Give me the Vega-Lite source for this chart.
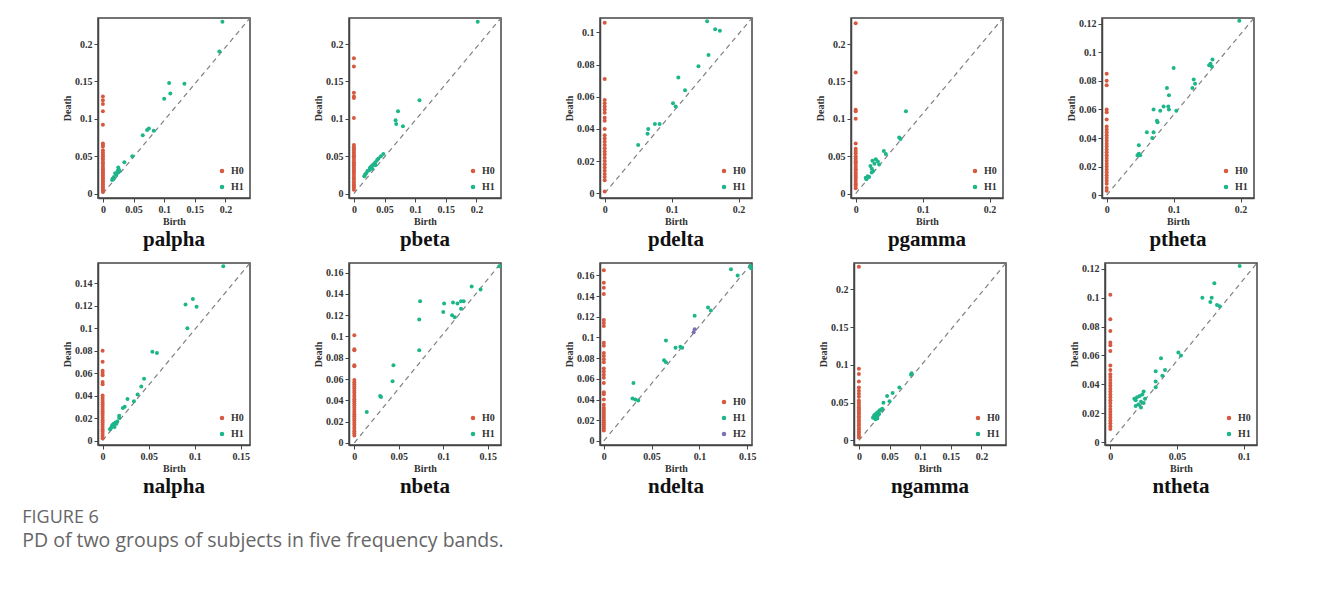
{
"$schema":"https://vega.github.io/schema/vega-lite/v6.json",
"background":"white",
"padding":{"left":22,"top":16,"right":10,"bottom":5},
"title":{"text":"FIGURE 6","subtitle":"PD of two groups of subjects in five frequency bands.","orient":"bottom","anchor":"start","dx":-39,"offset":11,"font":"Open Sans","fontSize":18,"fontWeight":"normal","color":"#666666","subtitleFont":"Open Sans","subtitleFontSize":19.5,"subtitleColor":"#666666","subtitlePadding":5},
"datasets":{
"palpha":[
{"type":"H0","birth":0,"death":0.13},{"type":"H0","birth":0,"death":0.125},{"type":"H0","birth":0,"death":0.12},{"type":"H0","birth":0,"death":0.11},{"type":"H0","birth":0,"death":0.092},{"type":"H0","birth":0,"death":0.067},{"type":"H0","birth":0,"death":0.065},{"type":"H0","birth":0,"death":0.063},{"type":"H0","birth":0,"death":0.058},{"type":"H0","birth":0,"death":0.055},{"type":"H0","birth":0,"death":0.052},{"type":"H0","birth":0,"death":0.05},{"type":"H0","birth":0,"death":0.047},{"type":"H0","birth":0,"death":0.045},{"type":"H0","birth":0,"death":0.042},{"type":"H0","birth":0,"death":0.04},{"type":"H0","birth":0,"death":0.037},{"type":"H0","birth":0,"death":0.034},{"type":"H0","birth":0,"death":0.032},{"type":"H0","birth":0,"death":0.03},{"type":"H0","birth":0,"death":0.028},{"type":"H0","birth":0,"death":0.026},{"type":"H0","birth":0,"death":0.024},{"type":"H0","birth":0,"death":0.022},{"type":"H0","birth":0,"death":0.02},{"type":"H0","birth":0,"death":0.018},{"type":"H0","birth":0,"death":0.016},{"type":"H0","birth":0,"death":0.014},{"type":"H0","birth":0,"death":0.012},{"type":"H0","birth":0,"death":0.01},{"type":"H0","birth":0,"death":0.008},{"type":"H0","birth":0,"death":0.006},{"type":"H0","birth":0,"death":0.004},{"type":"H0","birth":0,"death":0.002},
{"type":"H1","birth":0.195,"death":0.23},{"type":"H1","birth":0.19,"death":0.19},{"type":"H1","birth":0.108,"death":0.148},{"type":"H1","birth":0.133,"death":0.147},{"type":"H1","birth":0.11,"death":0.134},{"type":"H1","birth":0.1,"death":0.127},{"type":"H1","birth":0.075,"death":0.087},{"type":"H1","birth":0.072,"death":0.085},{"type":"H1","birth":0.083,"death":0.084},{"type":"H1","birth":0.065,"death":0.078},{"type":"H1","birth":0.048,"death":0.05},{"type":"H1","birth":0.035,"death":0.042},{"type":"H1","birth":0.025,"death":0.035},{"type":"H1","birth":0.026,"death":0.032},{"type":"H1","birth":0.024,"death":0.03},{"type":"H1","birth":0.025,"death":0.028},{"type":"H1","birth":0.02,"death":0.027},{"type":"H1","birth":0.022,"death":0.025},{"type":"H1","birth":0.018,"death":0.022},{"type":"H1","birth":0.016,"death":0.02},{"type":"H1","birth":0.017,"death":0.019},{"type":"H1","birth":0.015,"death":0.018},{"type":"H1","birth":0.027,"death":0.03}],
"pbeta":[
{"type":"H0","birth":0,"death":0.181},{"type":"H0","birth":0,"death":0.17},{"type":"H0","birth":0,"death":0.135},{"type":"H0","birth":0,"death":0.13},{"type":"H0","birth":0,"death":0.128},{"type":"H0","birth":0,"death":0.101},{"type":"H0","birth":0,"death":0.065},{"type":"H0","birth":0,"death":0.062},{"type":"H0","birth":0,"death":0.06},{"type":"H0","birth":0,"death":0.058},{"type":"H0","birth":0,"death":0.055},{"type":"H0","birth":0,"death":0.052},{"type":"H0","birth":0,"death":0.05},{"type":"H0","birth":0,"death":0.048},{"type":"H0","birth":0,"death":0.045},{"type":"H0","birth":0,"death":0.042},{"type":"H0","birth":0,"death":0.04},{"type":"H0","birth":0,"death":0.038},{"type":"H0","birth":0,"death":0.035},{"type":"H0","birth":0,"death":0.032},{"type":"H0","birth":0,"death":0.03},{"type":"H0","birth":0,"death":0.028},{"type":"H0","birth":0,"death":0.025},{"type":"H0","birth":0,"death":0.022},{"type":"H0","birth":0,"death":0.02},{"type":"H0","birth":0,"death":0.018},{"type":"H0","birth":0,"death":0.015},{"type":"H0","birth":0,"death":0.012},{"type":"H0","birth":0,"death":0.01},{"type":"H0","birth":0,"death":0.008},{"type":"H0","birth":0,"death":0.005},
{"type":"H1","birth":0.202,"death":0.23},{"type":"H1","birth":0.107,"death":0.125},{"type":"H1","birth":0.072,"death":0.11},{"type":"H1","birth":0.068,"death":0.098},{"type":"H1","birth":0.069,"death":0.093},{"type":"H1","birth":0.08,"death":0.09},{"type":"H1","birth":0.048,"death":0.053},{"type":"H1","birth":0.044,"death":0.05},{"type":"H1","birth":0.04,"death":0.047},{"type":"H1","birth":0.038,"death":0.045},{"type":"H1","birth":0.035,"death":0.042},{"type":"H1","birth":0.033,"death":0.04},{"type":"H1","birth":0.03,"death":0.038},{"type":"H1","birth":0.028,"death":0.036},{"type":"H1","birth":0.026,"death":0.034},{"type":"H1","birth":0.025,"death":0.031},{"type":"H1","birth":0.022,"death":0.03},{"type":"H1","birth":0.02,"death":0.027},{"type":"H1","birth":0.018,"death":0.025},{"type":"H1","birth":0.017,"death":0.023},{"type":"H1","birth":0.03,"death":0.033},{"type":"H1","birth":0.035,"death":0.038}],
"pdelta":[
{"type":"H0","birth":0,"death":0.106},{"type":"H0","birth":0,"death":0.071},{"type":"H0","birth":0,"death":0.058},{"type":"H0","birth":0,"death":0.056},{"type":"H0","birth":0,"death":0.054},{"type":"H0","birth":0,"death":0.052},{"type":"H0","birth":0,"death":0.05},{"type":"H0","birth":0,"death":0.047},{"type":"H0","birth":0,"death":0.045},{"type":"H0","birth":0,"death":0.04},{"type":"H0","birth":0,"death":0.036},{"type":"H0","birth":0,"death":0.034},{"type":"H0","birth":0,"death":0.032},{"type":"H0","birth":0,"death":0.03},{"type":"H0","birth":0,"death":0.028},{"type":"H0","birth":0,"death":0.026},{"type":"H0","birth":0,"death":0.024},{"type":"H0","birth":0,"death":0.022},{"type":"H0","birth":0,"death":0.02},{"type":"H0","birth":0,"death":0.018},{"type":"H0","birth":0,"death":0.016},{"type":"H0","birth":0,"death":0.014},{"type":"H0","birth":0,"death":0.012},{"type":"H0","birth":0,"death":0.01},{"type":"H0","birth":0,"death":0.008},{"type":"H0","birth":0,"death":0.001},
{"type":"H1","birth":0.153,"death":0.107},{"type":"H1","birth":0.165,"death":0.102},{"type":"H1","birth":0.172,"death":0.101},{"type":"H1","birth":0.155,"death":0.086},{"type":"H1","birth":0.14,"death":0.079},{"type":"H1","birth":0.11,"death":0.072},{"type":"H1","birth":0.12,"death":0.064},{"type":"H1","birth":0.102,"death":0.056},{"type":"H1","birth":0.106,"death":0.054},{"type":"H1","birth":0.075,"death":0.043},{"type":"H1","birth":0.082,"death":0.043},{"type":"H1","birth":0.065,"death":0.04},{"type":"H1","birth":0.064,"death":0.037},{"type":"H1","birth":0.05,"death":0.03}],
"pgamma":[
{"type":"H0","birth":0,"death":0.228},{"type":"H0","birth":0,"death":0.162},{"type":"H0","birth":0,"death":0.112},{"type":"H0","birth":0,"death":0.11},{"type":"H0","birth":0,"death":0.1},{"type":"H0","birth":0,"death":0.067},{"type":"H0","birth":0,"death":0.06},{"type":"H0","birth":0,"death":0.057},{"type":"H0","birth":0,"death":0.054},{"type":"H0","birth":0,"death":0.05},{"type":"H0","birth":0,"death":0.047},{"type":"H0","birth":0,"death":0.044},{"type":"H0","birth":0,"death":0.042},{"type":"H0","birth":0,"death":0.04},{"type":"H0","birth":0,"death":0.037},{"type":"H0","birth":0,"death":0.034},{"type":"H0","birth":0,"death":0.032},{"type":"H0","birth":0,"death":0.03},{"type":"H0","birth":0,"death":0.027},{"type":"H0","birth":0,"death":0.024},{"type":"H0","birth":0,"death":0.022},{"type":"H0","birth":0,"death":0.02},{"type":"H0","birth":0,"death":0.017},{"type":"H0","birth":0,"death":0.014},{"type":"H0","birth":0,"death":0.012},{"type":"H0","birth":0,"death":0.01},{"type":"H0","birth":0,"death":0.007},
{"type":"H1","birth":0.075,"death":0.11},{"type":"H1","birth":0.065,"death":0.075},{"type":"H1","birth":0.067,"death":0.073},{"type":"H1","birth":0.042,"death":0.057},{"type":"H1","birth":0.045,"death":0.053},{"type":"H1","birth":0.03,"death":0.046},{"type":"H1","birth":0.025,"death":0.044},{"type":"H1","birth":0.033,"death":0.043},{"type":"H1","birth":0.028,"death":0.04},{"type":"H1","birth":0.035,"death":0.039},{"type":"H1","birth":0.022,"death":0.037},{"type":"H1","birth":0.024,"death":0.033},{"type":"H1","birth":0.026,"death":0.03},{"type":"H1","birth":0.024,"death":0.028},{"type":"H1","birth":0.018,"death":0.023},{"type":"H1","birth":0.015,"death":0.021},{"type":"H1","birth":0.02,"death":0.022},{"type":"H1","birth":0.016,"death":0.019}],
"ptheta":[
{"type":"H0","birth":0,"death":0.085},{"type":"H0","birth":0,"death":0.08},{"type":"H0","birth":0,"death":0.077},{"type":"H0","birth":0,"death":0.06},{"type":"H0","birth":0,"death":0.058},{"type":"H0","birth":0,"death":0.053},{"type":"H0","birth":0,"death":0.048},{"type":"H0","birth":0,"death":0.046},{"type":"H0","birth":0,"death":0.044},{"type":"H0","birth":0,"death":0.042},{"type":"H0","birth":0,"death":0.04},{"type":"H0","birth":0,"death":0.038},{"type":"H0","birth":0,"death":0.036},{"type":"H0","birth":0,"death":0.034},{"type":"H0","birth":0,"death":0.032},{"type":"H0","birth":0,"death":0.03},{"type":"H0","birth":0,"death":0.028},{"type":"H0","birth":0,"death":0.026},{"type":"H0","birth":0,"death":0.024},{"type":"H0","birth":0,"death":0.022},{"type":"H0","birth":0,"death":0.02},{"type":"H0","birth":0,"death":0.018},{"type":"H0","birth":0,"death":0.016},{"type":"H0","birth":0,"death":0.014},{"type":"H0","birth":0,"death":0.012},{"type":"H0","birth":0,"death":0.01},{"type":"H0","birth":0,"death":0.008},{"type":"H0","birth":0,"death":0.005},{"type":"H0","birth":0,"death":0.003},
{"type":"H1","birth":0.198,"death":0.122},{"type":"H1","birth":0.158,"death":0.095},{"type":"H1","birth":0.155,"death":0.092},{"type":"H1","birth":0.153,"death":0.091},{"type":"H1","birth":0.157,"death":0.09},{"type":"H1","birth":0.13,"death":0.081},{"type":"H1","birth":0.132,"death":0.078},{"type":"H1","birth":0.128,"death":0.075},{"type":"H1","birth":0.1,"death":0.089},{"type":"H1","birth":0.09,"death":0.075},{"type":"H1","birth":0.093,"death":0.07},{"type":"H1","birth":0.092,"death":0.062},{"type":"H1","birth":0.093,"death":0.06},{"type":"H1","birth":0.085,"death":0.062},{"type":"H1","birth":0.08,"death":0.059},{"type":"H1","birth":0.075,"death":0.052},{"type":"H1","birth":0.076,"death":0.051},{"type":"H1","birth":0.07,"death":0.06},{"type":"H1","birth":0.07,"death":0.044},{"type":"H1","birth":0.068,"death":0.04},{"type":"H1","birth":0.06,"death":0.044},{"type":"H1","birth":0.104,"death":0.059},{"type":"H1","birth":0.048,"death":0.035},{"type":"H1","birth":0.048,"death":0.029},{"type":"H1","birth":0.05,"death":0.028},{"type":"H1","birth":0.046,"death":0.028}],
"nalpha":[
{"type":"H0","birth":0,"death":0.08},{"type":"H0","birth":0,"death":0.07},{"type":"H0","birth":0,"death":0.062},{"type":"H0","birth":0,"death":0.06},{"type":"H0","birth":0,"death":0.058},{"type":"H0","birth":0,"death":0.052},{"type":"H0","birth":0,"death":0.05},{"type":"H0","birth":0,"death":0.04},{"type":"H0","birth":0,"death":0.038},{"type":"H0","birth":0,"death":0.036},{"type":"H0","birth":0,"death":0.034},{"type":"H0","birth":0,"death":0.032},{"type":"H0","birth":0,"death":0.03},{"type":"H0","birth":0,"death":0.028},{"type":"H0","birth":0,"death":0.026},{"type":"H0","birth":0,"death":0.024},{"type":"H0","birth":0,"death":0.022},{"type":"H0","birth":0,"death":0.02},{"type":"H0","birth":0,"death":0.018},{"type":"H0","birth":0,"death":0.016},{"type":"H0","birth":0,"death":0.014},{"type":"H0","birth":0,"death":0.012},{"type":"H0","birth":0,"death":0.01},{"type":"H0","birth":0,"death":0.008},{"type":"H0","birth":0,"death":0.006},{"type":"H0","birth":0,"death":0.004},{"type":"H0","birth":0,"death":0.002},
{"type":"H1","birth":0.131,"death":0.155},{"type":"H1","birth":0.098,"death":0.126},{"type":"H1","birth":0.09,"death":0.121},{"type":"H1","birth":0.102,"death":0.119},{"type":"H1","birth":0.092,"death":0.1},{"type":"H1","birth":0.054,"death":0.079},{"type":"H1","birth":0.059,"death":0.078},{"type":"H1","birth":0.045,"death":0.055},{"type":"H1","birth":0.042,"death":0.048},{"type":"H1","birth":0.038,"death":0.041},{"type":"H1","birth":0.034,"death":0.035},{"type":"H1","birth":0.027,"death":0.037},{"type":"H1","birth":0.024,"death":0.03},{"type":"H1","birth":0.022,"death":0.029},{"type":"H1","birth":0.018,"death":0.022},{"type":"H1","birth":0.018,"death":0.02},{"type":"H1","birth":0.016,"death":0.017},{"type":"H1","birth":0.014,"death":0.016},{"type":"H1","birth":0.012,"death":0.015},{"type":"H1","birth":0.011,"death":0.014},{"type":"H1","birth":0.01,"death":0.013},{"type":"H1","birth":0.009,"death":0.011},{"type":"H1","birth":0.008,"death":0.01},{"type":"H1","birth":0.013,"death":0.012},{"type":"H1","birth":0.015,"death":0.015}],
"nbeta":[
{"type":"H0","birth":0,"death":0.101},{"type":"H0","birth":0,"death":0.088},{"type":"H0","birth":0,"death":0.087},{"type":"H0","birth":0,"death":0.073},{"type":"H0","birth":0,"death":0.072},{"type":"H0","birth":0,"death":0.059},{"type":"H0","birth":0,"death":0.057},{"type":"H0","birth":0,"death":0.055},{"type":"H0","birth":0,"death":0.053},{"type":"H0","birth":0,"death":0.051},{"type":"H0","birth":0,"death":0.049},{"type":"H0","birth":0,"death":0.047},{"type":"H0","birth":0,"death":0.045},{"type":"H0","birth":0,"death":0.043},{"type":"H0","birth":0,"death":0.041},{"type":"H0","birth":0,"death":0.039},{"type":"H0","birth":0,"death":0.037},{"type":"H0","birth":0,"death":0.035},{"type":"H0","birth":0,"death":0.033},{"type":"H0","birth":0,"death":0.031},{"type":"H0","birth":0,"death":0.029},{"type":"H0","birth":0,"death":0.027},{"type":"H0","birth":0,"death":0.025},{"type":"H0","birth":0,"death":0.023},{"type":"H0","birth":0,"death":0.021},{"type":"H0","birth":0,"death":0.019},{"type":"H0","birth":0,"death":0.017},{"type":"H0","birth":0,"death":0.015},{"type":"H0","birth":0,"death":0.013},{"type":"H0","birth":0,"death":0.011},{"type":"H0","birth":0,"death":0.009},{"type":"H0","birth":0,"death":0.007},
{"type":"H1","birth":0.163,"death":0.166},{"type":"H1","birth":0.132,"death":0.147},{"type":"H1","birth":0.142,"death":0.144},{"type":"H1","birth":0.074,"death":0.133},{"type":"H1","birth":0.101,"death":0.131},{"type":"H1","birth":0.111,"death":0.132},{"type":"H1","birth":0.116,"death":0.131},{"type":"H1","birth":0.12,"death":0.133},{"type":"H1","birth":0.123,"death":0.133},{"type":"H1","birth":0.1,"death":0.123},{"type":"H1","birth":0.11,"death":0.12},{"type":"H1","birth":0.113,"death":0.118},{"type":"H1","birth":0.12,"death":0.126},{"type":"H1","birth":0.073,"death":0.116},{"type":"H1","birth":0.073,"death":0.087},{"type":"H1","birth":0.044,"death":0.073},{"type":"H1","birth":0.043,"death":0.058},{"type":"H1","birth":0.029,"death":0.044},{"type":"H1","birth":0.03,"death":0.043},{"type":"H1","birth":0.014,"death":0.029}],
"ndelta":[
{"type":"H0","birth":0,"death":0.165},{"type":"H0","birth":0,"death":0.153},{"type":"H0","birth":0,"death":0.148},{"type":"H0","birth":0,"death":0.142},{"type":"H0","birth":0,"death":0.117},{"type":"H0","birth":0,"death":0.114},{"type":"H0","birth":0,"death":0.111},{"type":"H0","birth":0,"death":0.095},{"type":"H0","birth":0,"death":0.092},{"type":"H0","birth":0,"death":0.085},{"type":"H0","birth":0,"death":0.082},{"type":"H0","birth":0,"death":0.079},{"type":"H0","birth":0,"death":0.076},{"type":"H0","birth":0,"death":0.07},{"type":"H0","birth":0,"death":0.067},{"type":"H0","birth":0,"death":0.064},{"type":"H0","birth":0,"death":0.061},{"type":"H0","birth":0,"death":0.056},{"type":"H0","birth":0,"death":0.047},{"type":"H0","birth":0,"death":0.045},{"type":"H0","birth":0,"death":0.04},{"type":"H0","birth":0,"death":0.035},{"type":"H0","birth":0,"death":0.032},{"type":"H0","birth":0,"death":0.03},{"type":"H0","birth":0,"death":0.028},{"type":"H0","birth":0,"death":0.026},{"type":"H0","birth":0,"death":0.024},{"type":"H0","birth":0,"death":0.022},{"type":"H0","birth":0,"death":0.02},{"type":"H0","birth":0,"death":0.018},{"type":"H0","birth":0,"death":0.016},{"type":"H0","birth":0,"death":0.014},{"type":"H0","birth":0,"death":0.012},{"type":"H0","birth":0,"death":0.01},
{"type":"H1","birth":0.153,"death":0.169},{"type":"H1","birth":0.154,"death":0.167},{"type":"H1","birth":0.133,"death":0.166},{"type":"H1","birth":0.14,"death":0.16},{"type":"H1","birth":0.095,"death":0.121},{"type":"H1","birth":0.109,"death":0.129},{"type":"H1","birth":0.112,"death":0.126},{"type":"H1","birth":0.065,"death":0.097},{"type":"H1","birth":0.063,"death":0.078},{"type":"H1","birth":0.065,"death":0.076},{"type":"H1","birth":0.075,"death":0.09},{"type":"H1","birth":0.08,"death":0.091},{"type":"H1","birth":0.082,"death":0.09},{"type":"H1","birth":0.031,"death":0.056},{"type":"H1","birth":0.03,"death":0.041},{"type":"H1","birth":0.033,"death":0.04},{"type":"H1","birth":0.036,"death":0.039},
{"type":"H2","birth":0.095,"death":0.108},{"type":"H2","birth":0.094,"death":0.105}],
"ngamma":[
{"type":"H0","birth":0,"death":0.23},{"type":"H0","birth":0,"death":0.095},{"type":"H0","birth":0,"death":0.088},{"type":"H0","birth":0,"death":0.078},{"type":"H0","birth":0,"death":0.07},{"type":"H0","birth":0,"death":0.066},{"type":"H0","birth":0,"death":0.062},{"type":"H0","birth":0,"death":0.058},{"type":"H0","birth":0,"death":0.053},{"type":"H0","birth":0,"death":0.05},{"type":"H0","birth":0,"death":0.047},{"type":"H0","birth":0,"death":0.044},{"type":"H0","birth":0,"death":0.042},{"type":"H0","birth":0,"death":0.04},{"type":"H0","birth":0,"death":0.037},{"type":"H0","birth":0,"death":0.035},{"type":"H0","birth":0,"death":0.032},{"type":"H0","birth":0,"death":0.03},{"type":"H0","birth":0,"death":0.027},{"type":"H0","birth":0,"death":0.025},{"type":"H0","birth":0,"death":0.022},{"type":"H0","birth":0,"death":0.02},{"type":"H0","birth":0,"death":0.017},{"type":"H0","birth":0,"death":0.015},{"type":"H0","birth":0,"death":0.012},{"type":"H0","birth":0,"death":0.01},{"type":"H0","birth":0,"death":0.007},{"type":"H0","birth":0,"death":0.004},
{"type":"H1","birth":0.086,"death":0.089},{"type":"H1","birth":0.085,"death":0.087},{"type":"H1","birth":0.066,"death":0.07},{"type":"H1","birth":0.055,"death":0.063},{"type":"H1","birth":0.046,"death":0.059},{"type":"H1","birth":0.04,"death":0.05},{"type":"H1","birth":0.05,"death":0.052},{"type":"H1","birth":0.038,"death":0.042},{"type":"H1","birth":0.036,"death":0.04},{"type":"H1","birth":0.034,"death":0.04},{"type":"H1","birth":0.032,"death":0.038},{"type":"H1","birth":0.03,"death":0.037},{"type":"H1","birth":0.028,"death":0.035},{"type":"H1","birth":0.026,"death":0.034},{"type":"H1","birth":0.025,"death":0.033},{"type":"H1","birth":0.024,"death":0.031},{"type":"H1","birth":0.023,"death":0.03},{"type":"H1","birth":0.027,"death":0.028},{"type":"H1","birth":0.03,"death":0.029},{"type":"H1","birth":0.033,"death":0.035},{"type":"H1","birth":0.029,"death":0.032},{"type":"H1","birth":0.031,"death":0.034}],
"ntheta":[
{"type":"H0","birth":0,"death":0.102},{"type":"H0","birth":0,"death":0.085},{"type":"H0","birth":0,"death":0.077},{"type":"H0","birth":0,"death":0.069},{"type":"H0","birth":0,"death":0.067},{"type":"H0","birth":0,"death":0.063},{"type":"H0","birth":0,"death":0.053},{"type":"H0","birth":0,"death":0.05},{"type":"H0","birth":0,"death":0.047},{"type":"H0","birth":0,"death":0.045},{"type":"H0","birth":0,"death":0.043},{"type":"H0","birth":0,"death":0.041},{"type":"H0","birth":0,"death":0.039},{"type":"H0","birth":0,"death":0.037},{"type":"H0","birth":0,"death":0.035},{"type":"H0","birth":0,"death":0.033},{"type":"H0","birth":0,"death":0.031},{"type":"H0","birth":0,"death":0.029},{"type":"H0","birth":0,"death":0.027},{"type":"H0","birth":0,"death":0.025},{"type":"H0","birth":0,"death":0.023},{"type":"H0","birth":0,"death":0.021},{"type":"H0","birth":0,"death":0.019},{"type":"H0","birth":0,"death":0.017},{"type":"H0","birth":0,"death":0.015},{"type":"H0","birth":0,"death":0.013},{"type":"H0","birth":0,"death":0.011},{"type":"H0","birth":0,"death":0.009},
{"type":"H1","birth":0.097,"death":0.122},{"type":"H1","birth":0.078,"death":0.11},{"type":"H1","birth":0.069,"death":0.1},{"type":"H1","birth":0.076,"death":0.1},{"type":"H1","birth":0.075,"death":0.097},{"type":"H1","birth":0.08,"death":0.095},{"type":"H1","birth":0.082,"death":0.094},{"type":"H1","birth":0.051,"death":0.062},{"type":"H1","birth":0.053,"death":0.06},{"type":"H1","birth":0.038,"death":0.058},{"type":"H1","birth":0.041,"death":0.05},{"type":"H1","birth":0.034,"death":0.049},{"type":"H1","birth":0.039,"death":0.046},{"type":"H1","birth":0.034,"death":0.042},{"type":"H1","birth":0.034,"death":0.038},{"type":"H1","birth":0.025,"death":0.035},{"type":"H1","birth":0.024,"death":0.033},{"type":"H1","birth":0.022,"death":0.032},{"type":"H1","birth":0.02,"death":0.031},{"type":"H1","birth":0.018,"death":0.03},{"type":"H1","birth":0.019,"death":0.029},{"type":"H1","birth":0.023,"death":0.028},{"type":"H1","birth":0.025,"death":0.027},{"type":"H1","birth":0.021,"death":0.026},{"type":"H1","birth":0.019,"death":0.025},{"type":"H1","birth":0.023,"death":0.024},{"type":"H1","birth":0.026,"death":0.03}],
"diag_palpha":[{"birth":0,"death":0,"birth2":0.24,"death2":0.235}],
"diag_pbeta":[{"birth":0,"death":0,"birth2":0.24,"death2":0.235}],
"diag_pdelta":[{"birth":0,"death":0,"birth2":0.22,"death2":0.109}],
"diag_pgamma":[{"birth":0,"death":0,"birth2":0.22,"death2":0.235}],
"diag_ptheta":[{"birth":0,"death":0,"birth2":0.22,"death2":0.124}],
"diag_nalpha":[{"birth":0,"death":0,"birth2":0.16,"death2":0.158}],
"diag_nbeta":[{"birth":0,"death":0,"birth2":0.165,"death2":0.169}],
"diag_ndelta":[{"birth":0,"death":0,"birth2":0.155,"death2":0.172}],
"diag_ngamma":[{"birth":0,"death":0,"birth2":0.24,"death2":0.235}],
"diag_ntheta":[{"birth":0,"death":0,"birth2":0.11,"death2":0.124}]
},
"spacing":10,
"resolve":{"scale":{"color":"independent"},"legend":{"color":"independent"}},
"vconcat":[
{"spacing":60,"resolve":{"scale":{"color":"independent"},"legend":{"color":"independent"}},
"hconcat":[
{"title":"palpha","width":152,"height":180,"layer":[
{"data":{"name":"diag_palpha"},"mark":{"type":"rule","strokeDash":[5,4],"color":"#808080","strokeWidth":1.2},"encoding":{"x":{"field":"birth","type":"quantitative"},"y":{"field":"death","type":"quantitative"},"x2":{"field":"birth2"},"y2":{"field":"death2"}}},
{"data":{"name":"palpha"},"mark":{"type":"circle","size":16,"opacity":1},"encoding":{
"x":{"field":"birth","type":"quantitative","scale":{"domain":[-0.008,0.24],"nice":false,"zero":false},"axis":{"title":"Birth","tickCount":30,"values":[0,0.05,0.1,0.15,0.2],"format":"~g"}},
"y":{"field":"death","type":"quantitative","scale":{"domain":[-0.006,0.235],"nice":false,"zero":false},"axis":{"title":"Death","tickCount":30,"values":[0,0.05,0.1,0.15,0.2],"format":"~g"}},
"color":{"field":"type","type":"nominal","scale":{"domain":["H0","H1"],"range":["#d65a41","#1db58a"]},"legend":{"title":null}}}}]},
{"title":"pbeta","width":152,"height":180,"layer":[
{"data":{"name":"diag_pbeta"},"mark":{"type":"rule","strokeDash":[5,4],"color":"#808080","strokeWidth":1.2},"encoding":{"x":{"field":"birth","type":"quantitative"},"y":{"field":"death","type":"quantitative"},"x2":{"field":"birth2"},"y2":{"field":"death2"}}},
{"data":{"name":"pbeta"},"mark":{"type":"circle","size":16,"opacity":1},"encoding":{
"x":{"field":"birth","type":"quantitative","scale":{"domain":[-0.008,0.24],"nice":false,"zero":false},"axis":{"title":"Birth","tickCount":30,"values":[0,0.05,0.1,0.15,0.2],"format":"~g"}},
"y":{"field":"death","type":"quantitative","scale":{"domain":[-0.006,0.235],"nice":false,"zero":false},"axis":{"title":"Death","tickCount":30,"values":[0,0.05,0.1,0.15,0.2],"format":"~g"}},
"color":{"field":"type","type":"nominal","scale":{"domain":["H0","H1"],"range":["#d65a41","#1db58a"]},"legend":{"title":null}}}}]},
{"title":"pdelta","width":152,"height":180,"layer":[
{"data":{"name":"diag_pdelta"},"mark":{"type":"rule","strokeDash":[5,4],"color":"#808080","strokeWidth":1.2},"encoding":{"x":{"field":"birth","type":"quantitative"},"y":{"field":"death","type":"quantitative"},"x2":{"field":"birth2"},"y2":{"field":"death2"}}},
{"data":{"name":"pdelta"},"mark":{"type":"circle","size":16,"opacity":1},"encoding":{
"x":{"field":"birth","type":"quantitative","scale":{"domain":[-0.007,0.22],"nice":false,"zero":false},"axis":{"title":"Birth","tickCount":30,"values":[0,0.1,0.2],"format":"~g"}},
"y":{"field":"death","type":"quantitative","scale":{"domain":[-0.003,0.109],"nice":false,"zero":false},"axis":{"title":"Death","tickCount":30,"values":[0,0.02,0.04,0.06,0.08,0.1],"format":"~g"}},
"color":{"field":"type","type":"nominal","scale":{"domain":["H0","H1"],"range":["#d65a41","#1db58a"]},"legend":{"title":null}}}}]},
{"title":"pgamma","width":152,"height":180,"layer":[
{"data":{"name":"diag_pgamma"},"mark":{"type":"rule","strokeDash":[5,4],"color":"#808080","strokeWidth":1.2},"encoding":{"x":{"field":"birth","type":"quantitative"},"y":{"field":"death","type":"quantitative"},"x2":{"field":"birth2"},"y2":{"field":"death2"}}},
{"data":{"name":"pgamma"},"mark":{"type":"circle","size":16,"opacity":1},"encoding":{
"x":{"field":"birth","type":"quantitative","scale":{"domain":[-0.007,0.22],"nice":false,"zero":false},"axis":{"title":"Birth","tickCount":30,"values":[0,0.1,0.2],"format":"~g"}},
"y":{"field":"death","type":"quantitative","scale":{"domain":[-0.006,0.235],"nice":false,"zero":false},"axis":{"title":"Death","tickCount":30,"values":[0,0.05,0.1,0.15,0.2],"format":"~g"}},
"color":{"field":"type","type":"nominal","scale":{"domain":["H0","H1"],"range":["#d65a41","#1db58a"]},"legend":{"title":null}}}}]},
{"title":"ptheta","width":152,"height":180,"layer":[
{"data":{"name":"diag_ptheta"},"mark":{"type":"rule","strokeDash":[5,4],"color":"#808080","strokeWidth":1.2},"encoding":{"x":{"field":"birth","type":"quantitative"},"y":{"field":"death","type":"quantitative"},"x2":{"field":"birth2"},"y2":{"field":"death2"}}},
{"data":{"name":"ptheta"},"mark":{"type":"circle","size":16,"opacity":1},"encoding":{
"x":{"field":"birth","type":"quantitative","scale":{"domain":[-0.007,0.22],"nice":false,"zero":false},"axis":{"title":"Birth","tickCount":30,"values":[0,0.1,0.2],"format":"~g"}},
"y":{"field":"death","type":"quantitative","scale":{"domain":[-0.002,0.124],"nice":false,"zero":false},"axis":{"title":"Death","tickCount":30,"values":[0,0.02,0.04,0.06,0.08,0.1,0.12],"format":"~g"}},
"color":{"field":"type","type":"nominal","scale":{"domain":["H0","H1"],"range":["#d65a41","#1db58a"]},"legend":{"title":null}}}}]}
]},
{"spacing":60,"resolve":{"scale":{"color":"independent"},"legend":{"color":"independent"}},
"hconcat":[
{"title":"nalpha","width":152,"height":182,"layer":[
{"data":{"name":"diag_nalpha"},"mark":{"type":"rule","strokeDash":[5,4],"color":"#808080","strokeWidth":1.2},"encoding":{"x":{"field":"birth","type":"quantitative"},"y":{"field":"death","type":"quantitative"},"x2":{"field":"birth2"},"y2":{"field":"death2"}}},
{"data":{"name":"nalpha"},"mark":{"type":"circle","size":16,"opacity":1},"encoding":{
"x":{"field":"birth","type":"quantitative","scale":{"domain":[-0.005,0.16],"nice":false,"zero":false},"axis":{"title":"Birth","tickCount":30,"values":[0,0.05,0.1,0.15],"format":"~g"}},
"y":{"field":"death","type":"quantitative","scale":{"domain":[-0.004,0.158],"nice":false,"zero":false},"axis":{"title":"Death","tickCount":30,"values":[0,0.02,0.04,0.06,0.08,0.1,0.12,0.14],"format":"~g"}},
"color":{"field":"type","type":"nominal","scale":{"domain":["H0","H1"],"range":["#d65a41","#1db58a"]},"legend":{"title":null}}}}]},
{"title":"nbeta","width":152,"height":182,"layer":[
{"data":{"name":"diag_nbeta"},"mark":{"type":"rule","strokeDash":[5,4],"color":"#808080","strokeWidth":1.2},"encoding":{"x":{"field":"birth","type":"quantitative"},"y":{"field":"death","type":"quantitative"},"x2":{"field":"birth2"},"y2":{"field":"death2"}}},
{"data":{"name":"nbeta"},"mark":{"type":"circle","size":16,"opacity":1},"encoding":{
"x":{"field":"birth","type":"quantitative","scale":{"domain":[-0.006,0.165],"nice":false,"zero":false},"axis":{"title":"Birth","tickCount":30,"values":[0,0.05,0.1,0.15],"format":"~g"}},
"y":{"field":"death","type":"quantitative","scale":{"domain":[-0.002,0.169],"nice":false,"zero":false},"axis":{"title":"Death","tickCount":30,"values":[0,0.02,0.04,0.06,0.08,0.1,0.12,0.14,0.16],"format":"~g"}},
"color":{"field":"type","type":"nominal","scale":{"domain":["H0","H1"],"range":["#d65a41","#1db58a"]},"legend":{"title":null}}}}]},
{"title":"ndelta","width":152,"height":182,"layer":[
{"data":{"name":"diag_ndelta"},"mark":{"type":"rule","strokeDash":[5,4],"color":"#808080","strokeWidth":1.2},"encoding":{"x":{"field":"birth","type":"quantitative"},"y":{"field":"death","type":"quantitative"},"x2":{"field":"birth2"},"y2":{"field":"death2"}}},
{"data":{"name":"ndelta"},"mark":{"type":"circle","size":16,"opacity":1},"encoding":{
"x":{"field":"birth","type":"quantitative","scale":{"domain":[-0.004,0.155],"nice":false,"zero":false},"axis":{"title":"Birth","tickCount":30,"values":[0,0.05,0.1,0.15],"format":"~g"}},
"y":{"field":"death","type":"quantitative","scale":{"domain":[-0.004,0.172],"nice":false,"zero":false},"axis":{"title":"Death","tickCount":30,"values":[0,0.02,0.04,0.06,0.08,0.1,0.12,0.14,0.16],"format":"~g"}},
"color":{"field":"type","type":"nominal","scale":{"domain":["H0","H1","H2"],"range":["#d65a41","#1db58a","#7b70b6"]},"legend":{"title":null}}}}]},
{"title":"ngamma","width":152,"height":182,"layer":[
{"data":{"name":"diag_ngamma"},"mark":{"type":"rule","strokeDash":[5,4],"color":"#808080","strokeWidth":1.2},"encoding":{"x":{"field":"birth","type":"quantitative"},"y":{"field":"death","type":"quantitative"},"x2":{"field":"birth2"},"y2":{"field":"death2"}}},
{"data":{"name":"ngamma"},"mark":{"type":"circle","size":16,"opacity":1},"encoding":{
"x":{"field":"birth","type":"quantitative","scale":{"domain":[-0.008,0.24],"nice":false,"zero":false},"axis":{"title":"Birth","tickCount":30,"values":[0,0.05,0.1,0.15,0.2],"format":"~g"}},
"y":{"field":"death","type":"quantitative","scale":{"domain":[-0.006,0.235],"nice":false,"zero":false},"axis":{"title":"Death","tickCount":30,"values":[0,0.05,0.1,0.15,0.2],"format":"~g"}},
"color":{"field":"type","type":"nominal","scale":{"domain":["H0","H1"],"range":["#d65a41","#1db58a"]},"legend":{"title":null}}}}]},
{"title":"ntheta","width":152,"height":182,"layer":[
{"data":{"name":"diag_ntheta"},"mark":{"type":"rule","strokeDash":[5,4],"color":"#808080","strokeWidth":1.2},"encoding":{"x":{"field":"birth","type":"quantitative"},"y":{"field":"death","type":"quantitative"},"x2":{"field":"birth2"},"y2":{"field":"death2"}}},
{"data":{"name":"ntheta"},"mark":{"type":"circle","size":16,"opacity":1},"encoding":{
"x":{"field":"birth","type":"quantitative","scale":{"domain":[-0.004,0.11],"nice":false,"zero":false},"axis":{"title":"Birth","tickCount":30,"values":[0,0.05,0.1],"format":"~g"}},
"y":{"field":"death","type":"quantitative","scale":{"domain":[-0.002,0.124],"nice":false,"zero":false},"axis":{"title":"Death","tickCount":30,"values":[0,0.02,0.04,0.06,0.08,0.1,0.12],"format":"~g"}},
"color":{"field":"type","type":"nominal","scale":{"domain":["H0","H1"],"range":["#d65a41","#1db58a"]},"legend":{"title":null}}}}]}
]}
],
"config":{
"view":{"stroke":"#444","strokeWidth":1.5},
"axis":{"grid":false,"labelOverlap":false,"domainColor":"#444","domainWidth":1.5,"tickColor":"#444","tickSize":4,"labelFont":"Liberation Serif","labelFontWeight":"bold","labelFontSize":10,"labelColor":"#333","labelPadding":2,"titleFont":"Liberation Serif","titleFontWeight":"bold","titleFontSize":10,"titleColor":"#333","titlePadding":2},
"axisY":{"minExtent":24,"maxExtent":24,"titlePadding":2},
"legend":{"orient":"bottom-right","offset":6,"labelFont":"Liberation Serif","labelFontWeight":"bold","labelFontSize":10,"labelColor":"#333","symbolSize":20,"symbolType":"circle","rowPadding":6},
"title":{"font":"Liberation Serif","fontSize":21,"fontWeight":"bold","orient":"bottom","offset":3,"color":"#111","anchor":"middle"}
}
}
